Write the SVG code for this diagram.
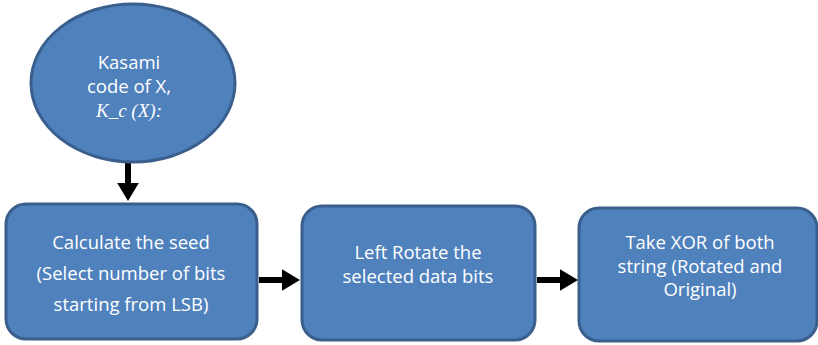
<svg xmlns="http://www.w3.org/2000/svg" width="818" height="345" viewBox="0 0 818 345">
<style>
.n{fill:#4F81BD;stroke:#3A5F8C;stroke-width:3}
.t{fill:#fff;font-family:"Open Sans","Liberation Sans",sans-serif;font-size:18.5px;text-anchor:middle}
.m{fill:#fff;font-family:"Liberation Serif",serif;font-size:19px;font-style:italic;text-anchor:middle}
.c{stroke:#000;stroke-width:6;fill:none}
</style>
<defs>
<marker id="ah" markerWidth="3" markerHeight="3.6" refX="1" refY="1.8" orient="auto" markerUnits="strokeWidth">
<path d="M0,0 L3,1.8 L0,3.6 z" fill="#000"/>
</marker>
</defs>
<g id="connectors">
<line class="c" x1="128" y1="163" x2="128" y2="189" marker-end="url(#ah)"/>
<line class="c" x1="259" y1="280" x2="288" y2="280" marker-end="url(#ah)"/>
<line class="c" x1="537" y1="280" x2="566" y2="280" marker-end="url(#ah)"/>
</g>
<g id="kasami">
<ellipse class="n" cx="133" cy="83" rx="102" ry="79"/>
<text class="t" x="129" y="69">Kasami</text>
<text class="t" x="129" y="93">code of X,</text>
<text class="m" x="129" y="117">K_c (X):</text>
</g>
<g id="seed">
<rect class="n" x="6" y="204" width="251" height="135" rx="20"/>
<text class="t" x="131" y="249">Calculate the seed</text>
<text class="t" x="131" y="280">(Select number of bits</text>
<text class="t" x="131" y="311">starting from LSB)</text>
</g>
<g id="rotate">
<rect class="n" x="302" y="206" width="233" height="134" rx="20"/>
<text class="t" x="418" y="259">Left Rotate the</text>
<text class="t" x="418" y="283">selected data bits</text>
</g>
<g id="xor">
<rect class="n" x="579" y="208" width="238" height="133" rx="20"/>
<text class="t" x="700" y="249">Take XOR of both</text>
<text class="t" x="700" y="273">string (Rotated and</text>
<text class="t" x="700" y="296">Original)</text>
</g>
</svg>
